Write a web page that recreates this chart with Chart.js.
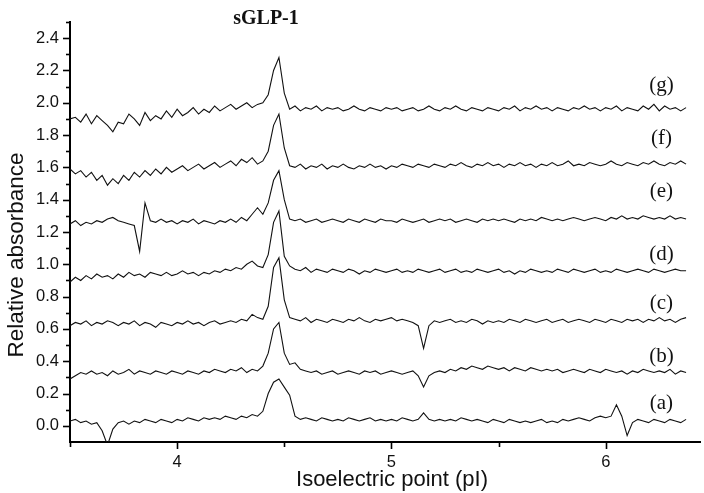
<!DOCTYPE html>
<html>
<head>
<meta charset="utf-8">
<script src="https://cdn.jsdelivr.net/npm/chart.js@4.4.1/dist/chart.umd.min.js"></script>
<style>
html, body { margin: 0; padding: 0; background: #fff; }
</style>
</head>
<body>
<canvas id="chart" width="704" height="493"></canvas>
<script>
// sampling grid (pI)
var pIStart = 3.5;
var pIStep = 0.025;

// relative absorbance, one array per trace
var traceA = [
	0.03, 0.04, 0.02, 0.03, 0.01, 0.02, -0.03, -0.12, -0.02, 0.02,
	0.03, 0.01, 0.03, 0.02, 0.04, 0.03, 0.02, 0.04, 0.03, 0.02,
	0.04, 0.03, 0.05, 0.04, 0.03, 0.05, 0.04, 0.05, 0.04, 0.06,
	0.05, 0.04, 0.06, 0.05, 0.07, 0.06, 0.09, 0.20, 0.27, 0.29,
	0.24, 0.19, 0.06, 0.04, 0.05, 0.04, 0.03, 0.05, 0.04, 0.03,
	0.04, 0.03, 0.05, 0.04, 0.03, 0.04, 0.05, 0.03, 0.04, 0.03,
	0.04, 0.03, 0.05, 0.04, 0.03, 0.04, 0.08, 0.04, 0.03, 0.04,
	0.03, 0.04, 0.03, 0.05, 0.04, 0.03, 0.04, 0.03, 0.02, 0.04,
	0.03, 0.02, 0.04, 0.03, 0.02, 0.03, 0.02, 0.03, 0.04, 0.02,
	0.03, 0.02, 0.04, 0.03, 0.04, 0.05, 0.04, 0.03, 0.05, 0.06,
	0.05, 0.06, 0.13, 0.06, -0.06, 0.02, 0.04, 0.03, 0.02, 0.04,
	0.03, 0.02, 0.04, 0.03, 0.02, 0.04
];
var traceB = [
	0.29, 0.31, 0.33, 0.32, 0.34, 0.32, 0.33, 0.31, 0.34, 0.32,
	0.33, 0.35, 0.32, 0.34, 0.33, 0.32, 0.34, 0.33, 0.32, 0.34,
	0.33, 0.32, 0.34, 0.33, 0.32, 0.34, 0.33, 0.35, 0.34, 0.33,
	0.35, 0.34, 0.36, 0.33, 0.35, 0.34, 0.37, 0.45, 0.60, 0.64,
	0.45, 0.38, 0.39, 0.35, 0.34, 0.33, 0.34, 0.32, 0.33, 0.34,
	0.32, 0.33, 0.34, 0.33, 0.32, 0.34, 0.33, 0.34, 0.32, 0.33,
	0.34, 0.33, 0.32, 0.33, 0.34, 0.31, 0.24, 0.31, 0.33, 0.34,
	0.33, 0.35, 0.34, 0.36, 0.35, 0.37, 0.36, 0.35, 0.37, 0.36,
	0.35, 0.36, 0.34, 0.36, 0.35, 0.34, 0.36, 0.35, 0.34, 0.35,
	0.34, 0.35, 0.33, 0.34, 0.35, 0.34, 0.33, 0.35, 0.34, 0.33,
	0.35, 0.34, 0.33, 0.34, 0.32, 0.34, 0.33, 0.35, 0.34, 0.33,
	0.34, 0.33, 0.35, 0.32, 0.34, 0.33
];
var traceC = [
	0.62, 0.64, 0.63, 0.65, 0.62, 0.64, 0.63, 0.65, 0.64, 0.62,
	0.64, 0.63, 0.65, 0.62, 0.64, 0.63, 0.61, 0.64, 0.63, 0.62,
	0.64, 0.63, 0.65, 0.63, 0.64, 0.62, 0.64, 0.65, 0.63, 0.64,
	0.65, 0.64, 0.66, 0.65, 0.69, 0.67, 0.66, 0.74, 0.98, 1.04,
	0.78, 0.67, 0.66, 0.65, 0.67, 0.64, 0.66, 0.65, 0.64, 0.66,
	0.65, 0.64, 0.66, 0.65, 0.67, 0.65, 0.64, 0.66, 0.65, 0.66,
	0.67, 0.65, 0.66, 0.65, 0.64, 0.62, 0.48, 0.62, 0.65, 0.64,
	0.65, 0.66, 0.64, 0.65, 0.64, 0.66, 0.65, 0.63, 0.65, 0.64,
	0.65, 0.64, 0.66, 0.65, 0.64, 0.66, 0.65, 0.64, 0.65, 0.66,
	0.64, 0.65, 0.66, 0.64, 0.65, 0.66, 0.65, 0.64, 0.66, 0.65,
	0.64, 0.66, 0.65, 0.64, 0.66, 0.65, 0.66, 0.64, 0.66, 0.65,
	0.67, 0.65, 0.66, 0.64, 0.66, 0.67
];
var traceD = [
	0.89, 0.92, 0.90, 0.93, 0.91, 0.94, 0.92, 0.93, 0.91, 0.94,
	0.92, 0.95, 0.93, 0.94, 0.92, 0.95, 0.94, 0.93, 0.95, 0.93,
	0.94, 0.96, 0.94, 0.95, 0.93, 0.95, 0.94, 0.96, 0.95, 0.97,
	0.96, 0.98, 0.97, 1.00, 1.02, 0.99, 0.98, 1.06, 1.26, 1.33,
	1.05, 0.99, 0.97, 0.96, 0.98, 0.95, 0.97, 0.96, 0.95, 0.97,
	0.96, 0.95, 0.97, 0.96, 0.94, 0.96, 0.95, 0.97, 0.96, 0.95,
	0.96, 0.97, 0.95, 0.96, 0.95, 0.97, 0.96, 0.95, 0.96, 0.97,
	0.95, 0.96, 0.97, 0.95, 0.96, 0.95, 0.97, 0.96, 0.95, 0.96,
	0.97, 0.95, 0.96, 0.94, 0.96, 0.95, 0.97, 0.96, 0.95, 0.96,
	0.95, 0.97, 0.96, 0.95, 0.97, 0.96, 0.95, 0.96, 0.97, 0.95,
	0.96, 0.95, 0.97, 0.96, 0.95, 0.96, 0.97, 0.96, 0.95, 0.97,
	0.96, 0.95, 0.96, 0.97, 0.96, 0.96
];
var traceE = [
	1.25, 1.27, 1.24, 1.26, 1.25, 1.27, 1.26, 1.28, 1.29, 1.27,
	1.26, 1.25, 1.24, 1.08, 1.38, 1.27, 1.26, 1.28, 1.26, 1.27,
	1.25, 1.27, 1.26, 1.28, 1.25, 1.27, 1.26, 1.25, 1.27, 1.26,
	1.28, 1.26, 1.29, 1.27, 1.31, 1.35, 1.31, 1.38, 1.52, 1.58,
	1.40, 1.28, 1.27, 1.28, 1.26, 1.27, 1.28, 1.26, 1.27, 1.28,
	1.27, 1.26, 1.28, 1.27, 1.26, 1.28, 1.27, 1.26, 1.28, 1.27,
	1.27, 1.26, 1.28, 1.27, 1.26, 1.27, 1.28, 1.26, 1.27, 1.28,
	1.27, 1.28, 1.26, 1.27, 1.28, 1.27, 1.26, 1.28, 1.27, 1.28,
	1.27, 1.28, 1.27, 1.26, 1.28, 1.27, 1.28, 1.27, 1.29, 1.28,
	1.27, 1.28, 1.27, 1.28, 1.29, 1.28, 1.27, 1.28, 1.29, 1.28,
	1.27, 1.29, 1.28, 1.30, 1.28, 1.29, 1.28, 1.30, 1.29, 1.28,
	1.29, 1.28, 1.30, 1.28, 1.29, 1.28
];
var traceF = [
	1.59, 1.56, 1.58, 1.54, 1.57, 1.52, 1.55, 1.49, 1.53, 1.50,
	1.55, 1.52, 1.57, 1.54, 1.58, 1.55, 1.59, 1.56, 1.60, 1.57,
	1.59, 1.61, 1.58, 1.60, 1.62, 1.59, 1.61, 1.63, 1.60, 1.62,
	1.64, 1.61, 1.65, 1.63, 1.66, 1.62, 1.64, 1.70, 1.86, 1.93,
	1.72, 1.61, 1.60, 1.62, 1.59, 1.61, 1.60, 1.62, 1.59, 1.61,
	1.60, 1.62, 1.60, 1.59, 1.61, 1.60, 1.62, 1.60, 1.61, 1.59,
	1.61, 1.60, 1.62, 1.61, 1.60, 1.62, 1.61, 1.60, 1.62, 1.61,
	1.60, 1.62, 1.61, 1.63, 1.61, 1.60, 1.62, 1.61, 1.63, 1.61,
	1.62, 1.60, 1.62, 1.61, 1.63, 1.61, 1.62, 1.60, 1.62, 1.61,
	1.63, 1.61, 1.62, 1.64, 1.61, 1.62, 1.61, 1.63, 1.62, 1.61,
	1.62, 1.64, 1.62, 1.61, 1.63, 1.62, 1.61, 1.63, 1.62, 1.64,
	1.62, 1.61, 1.63, 1.62, 1.64, 1.62
];
var traceG = [
	1.90, 1.91, 1.88, 1.93, 1.87, 1.92, 1.89, 1.86, 1.82, 1.88,
	1.87, 1.93, 1.90, 1.86, 1.94, 1.89, 1.92, 1.90, 1.95, 1.91,
	1.96, 1.92, 1.94, 1.97, 1.93, 1.96, 1.94, 1.98, 1.95, 1.97,
	1.99, 1.96, 1.98, 2.00, 1.97, 1.99, 2.00, 2.05, 2.20, 2.28,
	2.06, 1.96, 1.98, 1.95, 1.97, 1.96, 1.98, 1.95, 1.97, 1.96,
	1.97, 1.95, 1.96, 1.98, 1.96, 1.95, 1.97, 1.96, 1.95, 1.97,
	1.96, 1.97, 1.95, 1.96, 1.97, 1.95, 1.96, 1.98, 1.96, 1.95,
	1.97, 1.96, 1.98, 1.96, 1.95, 1.97, 1.96, 1.95, 1.97, 1.96,
	1.95, 1.97, 1.96, 1.98, 1.95, 1.97, 1.96, 1.98, 1.96, 1.97,
	1.95, 1.97, 1.96, 1.95, 1.97, 1.96, 1.98, 1.96, 1.97, 1.95,
	1.97, 1.96, 1.98, 1.95, 1.97, 1.96, 1.95, 1.98, 1.96, 1.99,
	1.95, 1.98, 1.96, 1.97, 1.95, 1.97
];

var traceNames = ["(a)", "(b)", "(c)", "(d)", "(e)", "(f)", "(g)"];
var traces = [traceA, traceB, traceC, traceD, traceE, traceF, traceG];

// axis ticks
var xTicks = [4, 5, 6];
var xMinor = [3.5, 4.5, 5.5];
var yTicks = [0, 0.2, 0.4, 0.6, 0.8, 1.0, 1.2, 1.4, 1.6, 1.8, 2.0, 2.2, 2.4];
var yMinor = [0.1, 0.3, 0.5, 0.7, 0.9, 1.1, 1.3, 1.5, 1.7, 1.9, 2.1, 2.3, 2.5];

// where the (a)..(g) tags sit, in data units
var tagX = 6.26;
var tagY = [0.14, 0.43, 0.76, 1.06, 1.45, 1.78, 2.11];

var sansFont = "'Liberation Sans', Arial, sans-serif";
var serifFont = "'Liberation Serif', 'DejaVu Serif', serif";

var datasets = traces.map(function(tr, k) {
	return {
		label: traceNames[k],
		data: tr.map(function(v, i) { return {x: pIStart + pIStep * i, y: v}; }),
		borderColor: "#111",
		borderWidth: 1.1,
		pointRadius: 0,
		tension: 0,
		fill: false
	};
});

var extras = {
	id: "extras",
	afterDraw: function(chart) {
		var c = chart.ctx;
		var xs = chart.scales.x, ys = chart.scales.y;
		var a = chart.chartArea;
		c.save();
		c.strokeStyle = "#000";
		c.lineWidth = 1.6;
		// y ticks, outward
		yTicks.forEach(function(v) {
			var p = Math.round(ys.getPixelForValue(v)) + 0.5;
			c.beginPath(); c.moveTo(a.left - 7, p); c.lineTo(a.left, p); c.stroke();
		});
		yMinor.forEach(function(v) {
			var p = Math.round(ys.getPixelForValue(v)) + 0.5;
			c.beginPath(); c.moveTo(a.left - 4, p); c.lineTo(a.left, p); c.stroke();
		});
		xTicks.forEach(function(v) {
			var p = Math.round(xs.getPixelForValue(v)) + 0.5;
			c.beginPath(); c.moveTo(p, a.bottom); c.lineTo(p, a.bottom + 7); c.stroke();
		});
		xMinor.forEach(function(v) {
			var p = Math.round(xs.getPixelForValue(v)) + 0.5;
			c.beginPath(); c.moveTo(p, a.bottom); c.lineTo(p, a.bottom + 5); c.stroke();
		});
		c.fillStyle = "#111";
		c.textAlign = "center";
		c.textBaseline = "middle";
		// trace tags
		c.font = "21px " + serifFont;
		traceNames.forEach(function(n, k) {
			c.fillText(n, xs.getPixelForValue(tagX), ys.getPixelForValue(tagY[k]));
		});
		// title
		c.font = "bold 20px " + serifFont;
		c.fillText("sGLP-1", 266, 19);
		// axis titles
		c.font = "22px " + sansFont;
		c.fillText("Isoelectric point (pI)", 392, 480);
		c.translate(17, 255);
		c.rotate(-Math.PI / 2);
		c.font = "22.5px " + sansFont;
		c.fillText("Relative absorbance", 0, 0);
		c.restore();
	}
};

var ctx = document.getElementById("chart");
var chart = new Chart(ctx, {
	type: "line",
	data: { datasets: datasets },
	options: {
		responsive: false,
		animation: false,
		devicePixelRatio: 1,
		layout: { padding: { top: 22, right: 4, left: 0, bottom: 0 } },
		plugins: {
			legend: { display: false },
			tooltip: { enabled: false }
		},
		scales: {
			x: {
				type: "linear",
				min: 3.5,
				max: 6.44,
				afterBuildTicks: function(s) {
					s.ticks = xTicks.map(function(v) { return {value: v}; });
				},
				afterFit: function(s) { s.height = 51; },
				grid: { display: false, drawTicks: false },
				border: { display: true, color: "#000", width: 2 },
				ticks: {
					padding: 11,
					color: "#111",
					font: { family: sansFont, size: 16.5 },
					maxRotation: 0
				}
			},
			y: {
				type: "linear",
				min: -0.1,
				max: 2.5,
				afterBuildTicks: function(s) {
					s.ticks = yTicks.map(function(v) { return {value: v}; });
				},
				afterFit: function(s) { s.width = 70; },
				grid: { display: false, drawTicks: false },
				border: { display: true, color: "#000", width: 2 },
				ticks: {
					padding: 11,
					color: "#111",
					font: { family: sansFont, size: 16.5 },
					callback: function(v) { return v.toFixed(1); }
				}
			}
		}
	},
	plugins: [extras]
});
</script>
</body>
</html>
